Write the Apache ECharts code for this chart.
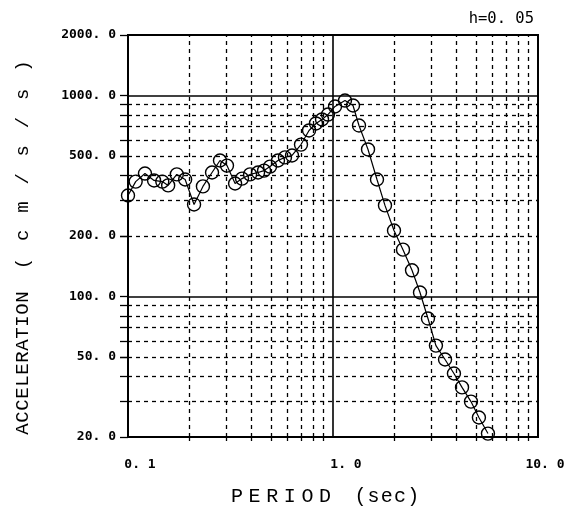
<!DOCTYPE html>
<html><head><meta charset="utf-8">
<script src="https://cdn.jsdelivr.net/npm/echarts@6/dist/echarts.min.js"></script>
<style>html,body{margin:0;padding:0;background:#fff}#c{width:583px;height:512px}</style>
</head><body><div id="c"></div>
<script>
// ---- data ----
const periods = [0.100,0.109,0.121,0.134,0.147,0.157,0.173,0.190,0.210,0.232,0.257,0.281,0.304,0.333,0.360,0.394,0.431,0.461,0.493,0.539,0.583,0.631,0.698,0.764,0.826,0.884,0.945,1.023,1.144,1.252,1.339,1.482,1.639,1.793,1.984,2.195,2.429,2.657,2.906,3.178,3.52,3.89,4.26,4.71,5.15,5.70];
const accel = [318,373,409,378,373,357,405,382,287,353,414,475,448,365,386,405,414,423,443,475,492,503,570,670,726,760,804,882,944,892,709,539,382,284,213,171,135,104.7,77.7,57.0,48.6,41.4,35.3,30.0,25.0,20.8];
const xTickValues = [0.1, 1, 10];
const xTickText = ['0. 1', '1. 0', '10. 0'];
const yTickValues = [20, 50, 100, 200, 500, 1000, 2000];
const yTickText = ['20. 0', '50. 0', '100. 0', '200. 0', '500. 0', '1000. 0', '2000. 0'];
const xMinorGrid = [0.2,0.3,0.4,0.5,0.6,0.7,0.8,0.9,2,3,4,5,6,7,8,9];
const xMajorGrid = [1];
const yMinorGrid = [30,40,50,60,70,80,90,200,300,400,500,600,700,800,900];
const yMajorGrid = [100, 1000];
const dampingText = 'h=0. 05';
const xTitleMain = 'PERIOD';
const xTitleUnit = '(sec)';
const yTitleMain = 'ACCELERATION';
const yTitleUnit = '(cm/s/s)';

// ---- helpers ----
function spaced(s, key) {
  return s.split('').map(ch => '{' + key + '|' + ch + '}').join('');
}
function nearestIndex(arr, v) {
  let best = 0, bd = Infinity;
  arr.forEach((a, i) => { const d = Math.abs(Math.log10(a) - Math.log10(v)); if (d < bd) { bd = d; best = i; } });
  return bd < 0.01 ? best : -1;
}

const series = periods.map((p, i) => [p, accel[i]]);
const dash = { type: [4, 4], width: 1.3, color: '#000' };
const solid = { type: 'solid', width: 1.6, color: '#000' };
const markData = []
  .concat(xMinorGrid.map(v => ({ xAxis: v, lineStyle: dash })))
  .concat(yMinorGrid.map(v => ({ yAxis: v, lineStyle: dash })))
  .concat(xMajorGrid.map(v => ({ xAxis: v, lineStyle: solid })))
  .concat(yMajorGrid.map(v => ({ yAxis: v, lineStyle: solid })));

const labelFont = { fontFamily: 'DejaVu Sans Mono', fontSize: 13, fontWeight: 'bold', color: '#000' };
const titleFont = 'Liberation Mono';

const chart = echarts.init(document.getElementById('c'), null, { renderer: 'canvas' });
chart.setOption({
  animation: false,
  backgroundColor: '#fff',
  title: {
    text: dampingText, right: 44, top: 6,
    textStyle: { fontFamily: 'DejaVu Sans Mono', fontSize: 15.5, fontWeight: 'normal', color: '#000' }
  },
  grid: { left: 128, top: 35, right: 45, bottom: 75, show: true, borderColor: '#000', borderWidth: 2, backgroundColor: 'transparent' },
  xAxis: {
    type: 'log', logBase: 10, min: 0.1, max: 10,
    axisLine: { show: true, lineStyle: { color: '#000', width: 2 } },
    splitLine: { show: false },
    axisTick: { show: true, customValues: xMinorGrid, length: 4, lineStyle: { color: '#000', width: 1.3 } },
    axisLabel: Object.assign({}, labelFont, {
      customValues: xTickValues, margin: 21,
      formatter: v => { const i = nearestIndex(xTickValues, v); return i < 0 ? '' : '{x' + i + '|' + xTickText[i] + '}'; },
      rich: { x0: { padding: [0, 0, 0, 24] }, x1: { padding: [0, 0, 0, 26] }, x2: { padding: [0, 0, 0, 14] } }
    }),
    name: spaced(xTitleMain, 'a') + '{s| }' + spaced(xTitleUnit, 'b'),
    nameLocation: 'middle', nameGap: 50,
    nameTextStyle: {
      fontFamily: titleFont, fontSize: 20, color: '#000',
      padding: [0, 18, 0, 0],
      rich: { a: { padding: [0, 2.8] }, b: { padding: [0, 0.6] }, s: { padding: [0, 4] } }
    }
  },
  yAxis: {
    type: 'log', logBase: 10, min: 20, max: 2000,
    axisLine: { show: true, lineStyle: { color: '#000', width: 2 } },
    splitLine: { show: false },
    axisTick: { show: true, customValues: yTickValues.concat(yMinorGrid), length: 8, lineStyle: { color: '#000', width: 1.3 } },
    axisLabel: Object.assign({}, labelFont, {
      customValues: yTickValues, margin: 12,
      formatter: v => { const i = nearestIndex(yTickValues, v); return i < 0 ? '' : yTickText[i]; }
    }),
    name: spaced(yTitleMain, 'a') + '{s| }' + spaced(yTitleUnit, 'b'),
    nameLocation: 'middle', nameRotate: 90, nameGap: 96,
    nameTextStyle: {
      fontFamily: titleFont, fontSize: 19, color: '#000',
      padding: [0, 15, 0, 0],
      rich: { a: { padding: [0, 0.3] }, b: { padding: [0, 8.4] }, s: { padding: [0, 1] } }
    }
  },
  series: [{
    type: 'line',
    data: series,
    symbol: 'circle', symbolSize: 13,
    itemStyle: { color: 'rgba(0,0,0,0)', borderColor: '#000', borderWidth: 1.4 },
    lineStyle: { color: '#000', width: 1.2 },
    z: 5,
    markLine: {
      silent: true, symbol: ['none', 'none'], label: { show: false },
      animation: false, data: markData
    }
  }]
});
</script></body></html>
